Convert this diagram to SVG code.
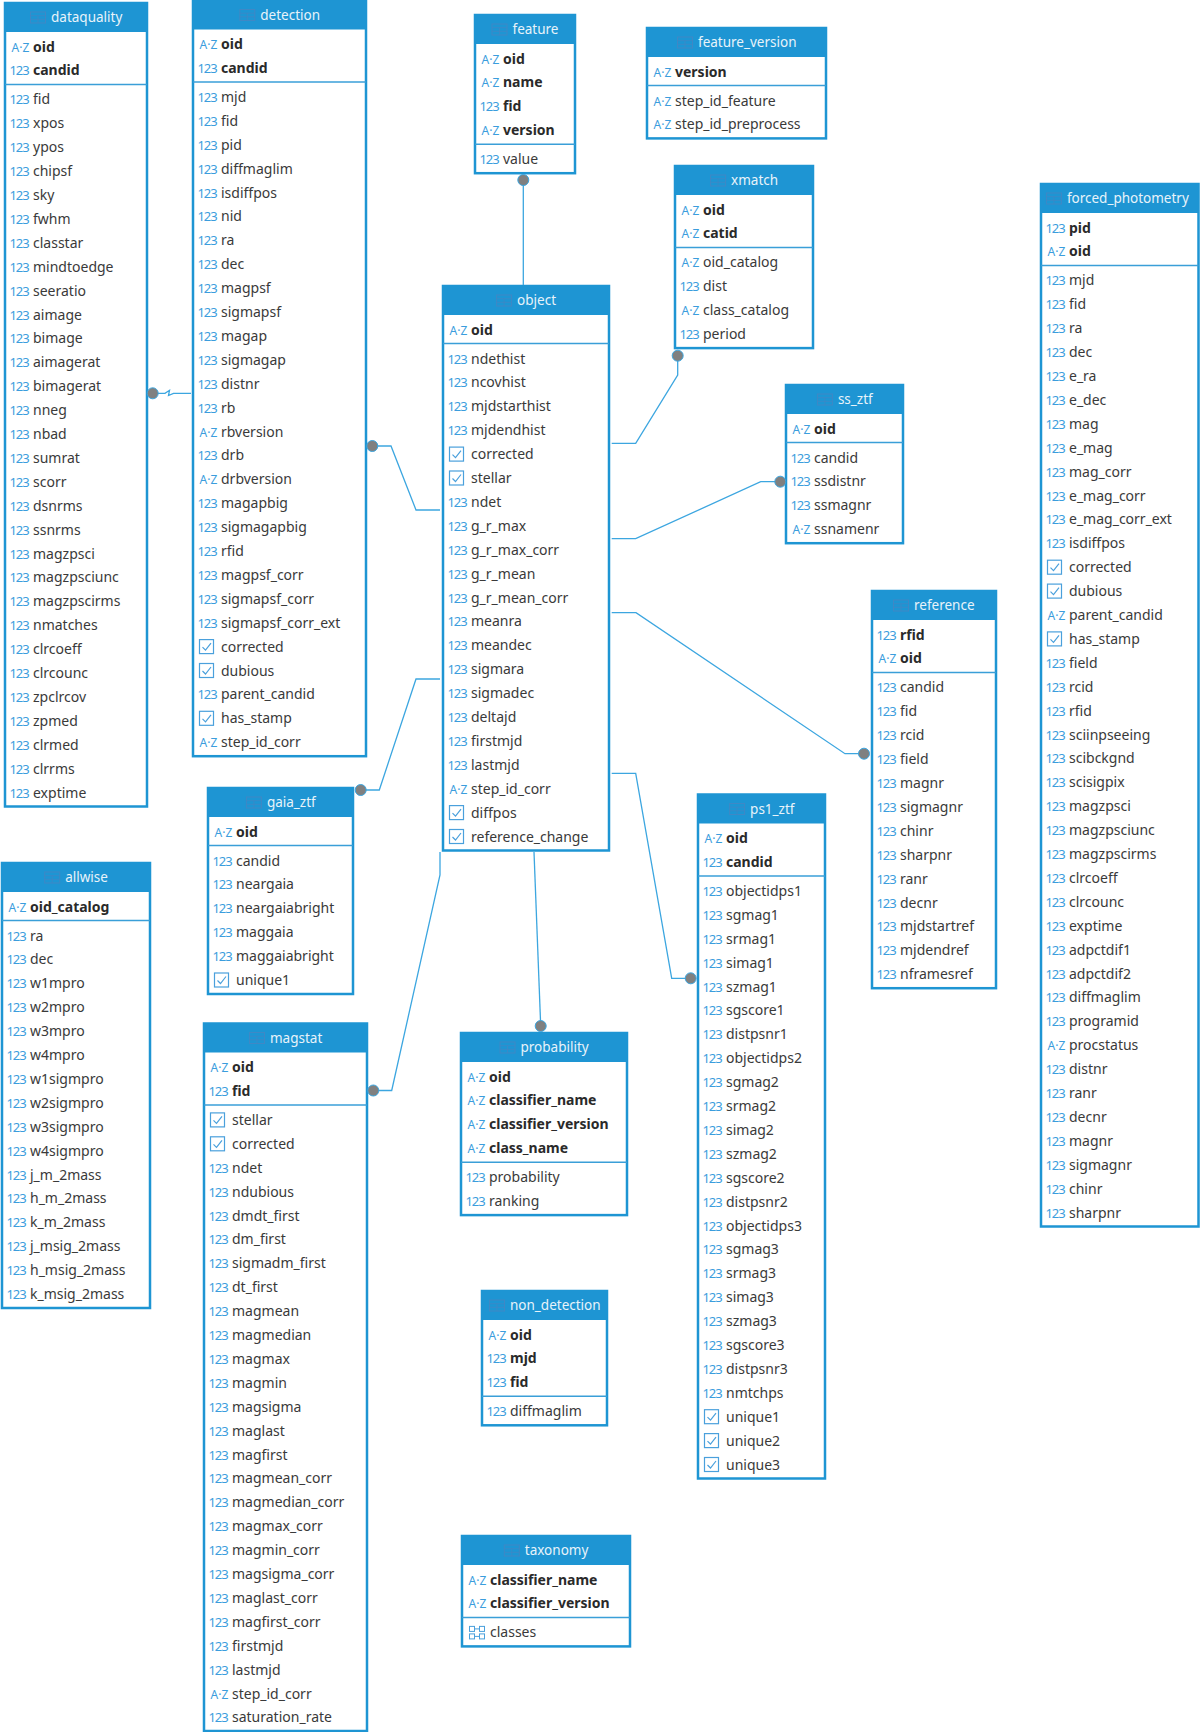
<svg xmlns="http://www.w3.org/2000/svg" xmlns:xlink="http://www.w3.org/1999/xlink" width="1200" height="1732" viewBox="0 0 1200 1732">
<style>
text{font-family:"Noto Sans","DejaVu Sans",sans-serif;font-size:14px;fill:#3a3a3a}
.i{font-size:13px;fill:#3b9ddd;letter-spacing:-1.1px}
.a{font-size:12px;fill:#3b9ddd}
.k{font-weight:bold;fill:#2a2a2a}
.t{font-size:13.5px;fill:#e8f3fa}
.box{fill:#fff;stroke:#1e95d3;stroke-width:2.5}
.hd{fill:#1e95d3}
.sep{stroke:#3a9fd8;stroke-width:1.5}
.conn{fill:none;stroke:#3ca6e0;stroke-width:1.3}
.dot{fill:#808080;stroke:#3ca6e0;stroke-width:1}
</style>
<defs>
<g id="ti"><rect x="0.5" y="-5.5" width="15" height="11" fill="none" stroke="#3f88c5" stroke-width="1"/><path d="M0.5,-1.8H15.5M0.5,1.8H15.5M8,-1.8V5.5" stroke="#3f88c5" stroke-width="0.8" fill="none"/></g>
<g id="cb"><rect x="6.5" y="-7" width="14" height="14" fill="#fff" stroke="#4aa0dc" stroke-width="1.2"/><path d="M9.5,0.5L12.5,3.5L18,-3.5" fill="none" stroke="#4aa0dc" stroke-width="1.2"/></g>
<g id="arr" fill="none" stroke="#4aa0dc" stroke-width="1"><rect x="7.5" y="-6" width="5" height="5"/><rect x="17.5" y="-6" width="5" height="5"/><rect x="7.5" y="1.5" width="5" height="5"/><rect x="17.5" y="1.5" width="5" height="5"/><path d="M12.5,-3.5H17.5M12.5,4H17.5"/></g>
</defs>
<rect width="1200" height="1732" fill="#fff"/>

<g id="t-dataquality">
<rect class="box" x="5" y="3" width="142" height="803.5"/><rect class="hd" x="5" y="3" width="142" height="29"/>
<use href="#ti" x="30" y="17.5"/><text class="t" x="51" y="22.3">dataquality</text>
<line class="sep" x1="5" y1="84.4" x2="147" y2="84.4"/>
<text class="a" x="11.5" y="51.5">A·Z</text><text class="k" x="33" y="51.5">oid</text>
<text class="i" x="9.5" y="75.4">123</text><text class="k" x="33" y="75.4">candid</text>
<text class="i" x="9.5" y="104.4">123</text><text x="33" y="104.4">fid</text>
<text class="i" x="9.5" y="128.3">123</text><text x="33" y="128.3">xpos</text>
<text class="i" x="9.5" y="152.2">123</text><text x="33" y="152.2">ypos</text>
<text class="i" x="9.5" y="176.1">123</text><text x="33" y="176.1">chipsf</text>
<text class="i" x="9.5" y="200">123</text><text x="33" y="200">sky</text>
<text class="i" x="9.5" y="223.9">123</text><text x="33" y="223.9">fwhm</text>
<text class="i" x="9.5" y="247.8">123</text><text x="33" y="247.8">classtar</text>
<text class="i" x="9.5" y="271.7">123</text><text x="33" y="271.7">mindtoedge</text>
<text class="i" x="9.5" y="295.6">123</text><text x="33" y="295.6">seeratio</text>
<text class="i" x="9.5" y="319.5">123</text><text x="33" y="319.5">aimage</text>
<text class="i" x="9.5" y="343.4">123</text><text x="33" y="343.4">bimage</text>
<text class="i" x="9.5" y="367.3">123</text><text x="33" y="367.3">aimagerat</text>
<text class="i" x="9.5" y="391.2">123</text><text x="33" y="391.2">bimagerat</text>
<text class="i" x="9.5" y="415.1">123</text><text x="33" y="415.1">nneg</text>
<text class="i" x="9.5" y="439">123</text><text x="33" y="439">nbad</text>
<text class="i" x="9.5" y="462.9">123</text><text x="33" y="462.9">sumrat</text>
<text class="i" x="9.5" y="486.8">123</text><text x="33" y="486.8">scorr</text>
<text class="i" x="9.5" y="510.7">123</text><text x="33" y="510.7">dsnrms</text>
<text class="i" x="9.5" y="534.6">123</text><text x="33" y="534.6">ssnrms</text>
<text class="i" x="9.5" y="558.5">123</text><text x="33" y="558.5">magzpsci</text>
<text class="i" x="9.5" y="582.4">123</text><text x="33" y="582.4">magzpsciunc</text>
<text class="i" x="9.5" y="606.3">123</text><text x="33" y="606.3">magzpscirms</text>
<text class="i" x="9.5" y="630.2">123</text><text x="33" y="630.2">nmatches</text>
<text class="i" x="9.5" y="654.1">123</text><text x="33" y="654.1">clrcoeff</text>
<text class="i" x="9.5" y="678">123</text><text x="33" y="678">clrcounc</text>
<text class="i" x="9.5" y="701.9">123</text><text x="33" y="701.9">zpclrcov</text>
<text class="i" x="9.5" y="725.8">123</text><text x="33" y="725.8">zpmed</text>
<text class="i" x="9.5" y="749.7">123</text><text x="33" y="749.7">clrmed</text>
<text class="i" x="9.5" y="773.6">123</text><text x="33" y="773.6">clrrms</text>
<text class="i" x="9.5" y="797.5">123</text><text x="33" y="797.5">exptime</text>
</g>

<g id="t-detection">
<rect class="box" x="193" y="0.5" width="173" height="755.7"/><rect class="hd" x="193" y="0.5" width="173" height="29"/>
<use href="#ti" x="239.3" y="15"/><text class="t" x="260.3" y="19.8">detection</text>
<line class="sep" x1="193" y1="81.9" x2="366" y2="81.9"/>
<text class="a" x="199.5" y="49">A·Z</text><text class="k" x="221" y="49">oid</text>
<text class="i" x="197.5" y="72.9">123</text><text class="k" x="221" y="72.9">candid</text>
<text class="i" x="197.5" y="101.9">123</text><text x="221" y="101.9">mjd</text>
<text class="i" x="197.5" y="125.8">123</text><text x="221" y="125.8">fid</text>
<text class="i" x="197.5" y="149.7">123</text><text x="221" y="149.7">pid</text>
<text class="i" x="197.5" y="173.6">123</text><text x="221" y="173.6">diffmaglim</text>
<text class="i" x="197.5" y="197.5">123</text><text x="221" y="197.5">isdiffpos</text>
<text class="i" x="197.5" y="221.4">123</text><text x="221" y="221.4">nid</text>
<text class="i" x="197.5" y="245.3">123</text><text x="221" y="245.3">ra</text>
<text class="i" x="197.5" y="269.2">123</text><text x="221" y="269.2">dec</text>
<text class="i" x="197.5" y="293.1">123</text><text x="221" y="293.1">magpsf</text>
<text class="i" x="197.5" y="317">123</text><text x="221" y="317">sigmapsf</text>
<text class="i" x="197.5" y="340.9">123</text><text x="221" y="340.9">magap</text>
<text class="i" x="197.5" y="364.8">123</text><text x="221" y="364.8">sigmagap</text>
<text class="i" x="197.5" y="388.7">123</text><text x="221" y="388.7">distnr</text>
<text class="i" x="197.5" y="412.6">123</text><text x="221" y="412.6">rb</text>
<text class="a" x="199.5" y="436.5">A·Z</text><text x="221" y="436.5">rbversion</text>
<text class="i" x="197.5" y="460.4">123</text><text x="221" y="460.4">drb</text>
<text class="a" x="199.5" y="484.3">A·Z</text><text x="221" y="484.3">drbversion</text>
<text class="i" x="197.5" y="508.2">123</text><text x="221" y="508.2">magapbig</text>
<text class="i" x="197.5" y="532.1">123</text><text x="221" y="532.1">sigmagapbig</text>
<text class="i" x="197.5" y="556">123</text><text x="221" y="556">rfid</text>
<text class="i" x="197.5" y="579.9">123</text><text x="221" y="579.9">magpsf_corr</text>
<text class="i" x="197.5" y="603.8">123</text><text x="221" y="603.8">sigmapsf_corr</text>
<text class="i" x="197.5" y="627.7">123</text><text x="221" y="627.7">sigmapsf_corr_ext</text>
<use href="#cb" x="193" y="646.6"/><text x="221" y="651.6">corrected</text>
<use href="#cb" x="193" y="670.5"/><text x="221" y="675.5">dubious</text>
<text class="i" x="197.5" y="699.4">123</text><text x="221" y="699.4">parent_candid</text>
<use href="#cb" x="193" y="718.3"/><text x="221" y="723.3">has_stamp</text>
<text class="a" x="199.5" y="747.2">A·Z</text><text x="221" y="747.2">step_id_corr</text>
</g>

<g id="t-feature">
<rect class="box" x="475" y="15" width="100" height="158.2"/><rect class="hd" x="475" y="15" width="100" height="29"/>
<use href="#ti" x="491.5" y="29.5"/><text class="t" x="512.5" y="34.3">feature</text>
<line class="sep" x1="475" y1="144.2" x2="575" y2="144.2"/>
<text class="a" x="481.5" y="63.5">A·Z</text><text class="k" x="503" y="63.5">oid</text>
<text class="a" x="481.5" y="87.4">A·Z</text><text class="k" x="503" y="87.4">name</text>
<text class="i" x="479.5" y="111.3">123</text><text class="k" x="503" y="111.3">fid</text>
<text class="a" x="481.5" y="135.2">A·Z</text><text class="k" x="503" y="135.2">version</text>
<text class="i" x="479.5" y="164.2">123</text><text x="503" y="164.2">value</text>
</g>

<g id="t-feature_version">
<rect class="box" x="647" y="28" width="179" height="110.4"/><rect class="hd" x="647" y="28" width="179" height="29"/>
<use href="#ti" x="677" y="42.5"/><text class="t" x="698" y="47.3">feature_version</text>
<line class="sep" x1="647" y1="85.5" x2="826" y2="85.5"/>
<text class="a" x="653.5" y="76.5">A·Z</text><text class="k" x="675" y="76.5">version</text>
<text class="a" x="653.5" y="105.5">A·Z</text><text x="675" y="105.5">step_id_feature</text>
<text class="a" x="653.5" y="129.4">A·Z</text><text x="675" y="129.4">step_id_preprocess</text>
</g>

<g id="t-xmatch">
<rect class="box" x="675" y="166" width="138" height="182.1"/><rect class="hd" x="675" y="166" width="138" height="29"/>
<use href="#ti" x="710.1" y="180.5"/><text class="t" x="731.1" y="185.3">xmatch</text>
<line class="sep" x1="675" y1="247.4" x2="813" y2="247.4"/>
<text class="a" x="681.5" y="214.5">A·Z</text><text class="k" x="703" y="214.5">oid</text>
<text class="a" x="681.5" y="238.4">A·Z</text><text class="k" x="703" y="238.4">catid</text>
<text class="a" x="681.5" y="267.4">A·Z</text><text x="703" y="267.4">oid_catalog</text>
<text class="i" x="679.5" y="291.3">123</text><text x="703" y="291.3">dist</text>
<text class="a" x="681.5" y="315.2">A·Z</text><text x="703" y="315.2">class_catalog</text>
<text class="i" x="679.5" y="339.1">123</text><text x="703" y="339.1">period</text>
</g>

<g id="t-object">
<rect class="box" x="443" y="286" width="166" height="564.5"/><rect class="hd" x="443" y="286" width="166" height="29"/>
<use href="#ti" x="496.1" y="300.5"/><text class="t" x="517.1" y="305.3">object</text>
<line class="sep" x1="443" y1="343.5" x2="609" y2="343.5"/>
<text class="a" x="449.5" y="334.5">A·Z</text><text class="k" x="471" y="334.5">oid</text>
<text class="i" x="447.5" y="363.5">123</text><text x="471" y="363.5">ndethist</text>
<text class="i" x="447.5" y="387.4">123</text><text x="471" y="387.4">ncovhist</text>
<text class="i" x="447.5" y="411.3">123</text><text x="471" y="411.3">mjdstarthist</text>
<text class="i" x="447.5" y="435.2">123</text><text x="471" y="435.2">mjdendhist</text>
<use href="#cb" x="443" y="454.1"/><text x="471" y="459.1">corrected</text>
<use href="#cb" x="443" y="478"/><text x="471" y="483">stellar</text>
<text class="i" x="447.5" y="506.9">123</text><text x="471" y="506.9">ndet</text>
<text class="i" x="447.5" y="530.8">123</text><text x="471" y="530.8">g_r_max</text>
<text class="i" x="447.5" y="554.7">123</text><text x="471" y="554.7">g_r_max_corr</text>
<text class="i" x="447.5" y="578.6">123</text><text x="471" y="578.6">g_r_mean</text>
<text class="i" x="447.5" y="602.5">123</text><text x="471" y="602.5">g_r_mean_corr</text>
<text class="i" x="447.5" y="626.4">123</text><text x="471" y="626.4">meanra</text>
<text class="i" x="447.5" y="650.3">123</text><text x="471" y="650.3">meandec</text>
<text class="i" x="447.5" y="674.2">123</text><text x="471" y="674.2">sigmara</text>
<text class="i" x="447.5" y="698.1">123</text><text x="471" y="698.1">sigmadec</text>
<text class="i" x="447.5" y="722">123</text><text x="471" y="722">deltajd</text>
<text class="i" x="447.5" y="745.9">123</text><text x="471" y="745.9">firstmjd</text>
<text class="i" x="447.5" y="769.8">123</text><text x="471" y="769.8">lastmjd</text>
<text class="a" x="449.5" y="793.7">A·Z</text><text x="471" y="793.7">step_id_corr</text>
<use href="#cb" x="443" y="812.6"/><text x="471" y="817.6">diffpos</text>
<use href="#cb" x="443" y="836.5"/><text x="471" y="841.5">reference_change</text>
</g>

<g id="t-ss_ztf">
<rect class="box" x="786" y="385" width="117" height="158.2"/><rect class="hd" x="786" y="385" width="117" height="29"/>
<use href="#ti" x="816.9" y="399.5"/><text class="t" x="837.9" y="404.3">ss_ztf</text>
<line class="sep" x1="786" y1="442.5" x2="903" y2="442.5"/>
<text class="a" x="792.5" y="433.5">A·Z</text><text class="k" x="814" y="433.5">oid</text>
<text class="i" x="790.5" y="462.5">123</text><text x="814" y="462.5">candid</text>
<text class="i" x="790.5" y="486.4">123</text><text x="814" y="486.4">ssdistnr</text>
<text class="i" x="790.5" y="510.3">123</text><text x="814" y="510.3">ssmagnr</text>
<text class="a" x="792.5" y="534.2">A·Z</text><text x="814" y="534.2">ssnamenr</text>
</g>

<g id="t-reference">
<rect class="box" x="872" y="591" width="124" height="397.2"/><rect class="hd" x="872" y="591" width="124" height="29"/>
<use href="#ti" x="893" y="605.5"/><text class="t" x="914" y="610.3">reference</text>
<line class="sep" x1="872" y1="672.4" x2="996" y2="672.4"/>
<text class="i" x="876.5" y="639.5">123</text><text class="k" x="900" y="639.5">rfid</text>
<text class="a" x="878.5" y="663.4">A·Z</text><text class="k" x="900" y="663.4">oid</text>
<text class="i" x="876.5" y="692.4">123</text><text x="900" y="692.4">candid</text>
<text class="i" x="876.5" y="716.3">123</text><text x="900" y="716.3">fid</text>
<text class="i" x="876.5" y="740.2">123</text><text x="900" y="740.2">rcid</text>
<text class="i" x="876.5" y="764.1">123</text><text x="900" y="764.1">field</text>
<text class="i" x="876.5" y="788">123</text><text x="900" y="788">magnr</text>
<text class="i" x="876.5" y="811.9">123</text><text x="900" y="811.9">sigmagnr</text>
<text class="i" x="876.5" y="835.8">123</text><text x="900" y="835.8">chinr</text>
<text class="i" x="876.5" y="859.7">123</text><text x="900" y="859.7">sharpnr</text>
<text class="i" x="876.5" y="883.6">123</text><text x="900" y="883.6">ranr</text>
<text class="i" x="876.5" y="907.5">123</text><text x="900" y="907.5">decnr</text>
<text class="i" x="876.5" y="931.4">123</text><text x="900" y="931.4">mjdstartref</text>
<text class="i" x="876.5" y="955.3">123</text><text x="900" y="955.3">mjdendref</text>
<text class="i" x="876.5" y="979.2">123</text><text x="900" y="979.2">nframesref</text>
</g>

<g id="t-forced_photometry">
<rect class="box" x="1041" y="184" width="157.5" height="1042.5"/><rect class="hd" x="1041" y="184" width="157.5" height="29"/>
<use href="#ti" x="1045.9" y="198.5"/><text class="t" x="1066.9" y="203.3">forced_photometry</text>
<line class="sep" x1="1041" y1="265.4" x2="1198.5" y2="265.4"/>
<text class="i" x="1045.5" y="232.5">123</text><text class="k" x="1069" y="232.5">pid</text>
<text class="a" x="1047.5" y="256.4">A·Z</text><text class="k" x="1069" y="256.4">oid</text>
<text class="i" x="1045.5" y="285.4">123</text><text x="1069" y="285.4">mjd</text>
<text class="i" x="1045.5" y="309.3">123</text><text x="1069" y="309.3">fid</text>
<text class="i" x="1045.5" y="333.2">123</text><text x="1069" y="333.2">ra</text>
<text class="i" x="1045.5" y="357.1">123</text><text x="1069" y="357.1">dec</text>
<text class="i" x="1045.5" y="381">123</text><text x="1069" y="381">e_ra</text>
<text class="i" x="1045.5" y="404.9">123</text><text x="1069" y="404.9">e_dec</text>
<text class="i" x="1045.5" y="428.8">123</text><text x="1069" y="428.8">mag</text>
<text class="i" x="1045.5" y="452.7">123</text><text x="1069" y="452.7">e_mag</text>
<text class="i" x="1045.5" y="476.6">123</text><text x="1069" y="476.6">mag_corr</text>
<text class="i" x="1045.5" y="500.5">123</text><text x="1069" y="500.5">e_mag_corr</text>
<text class="i" x="1045.5" y="524.4">123</text><text x="1069" y="524.4">e_mag_corr_ext</text>
<text class="i" x="1045.5" y="548.3">123</text><text x="1069" y="548.3">isdiffpos</text>
<use href="#cb" x="1041" y="567.2"/><text x="1069" y="572.2">corrected</text>
<use href="#cb" x="1041" y="591.1"/><text x="1069" y="596.1">dubious</text>
<text class="a" x="1047.5" y="620">A·Z</text><text x="1069" y="620">parent_candid</text>
<use href="#cb" x="1041" y="638.9"/><text x="1069" y="643.9">has_stamp</text>
<text class="i" x="1045.5" y="667.8">123</text><text x="1069" y="667.8">field</text>
<text class="i" x="1045.5" y="691.7">123</text><text x="1069" y="691.7">rcid</text>
<text class="i" x="1045.5" y="715.6">123</text><text x="1069" y="715.6">rfid</text>
<text class="i" x="1045.5" y="739.5">123</text><text x="1069" y="739.5">sciinpseeing</text>
<text class="i" x="1045.5" y="763.4">123</text><text x="1069" y="763.4">scibckgnd</text>
<text class="i" x="1045.5" y="787.3">123</text><text x="1069" y="787.3">scisigpix</text>
<text class="i" x="1045.5" y="811.2">123</text><text x="1069" y="811.2">magzpsci</text>
<text class="i" x="1045.5" y="835.1">123</text><text x="1069" y="835.1">magzpsciunc</text>
<text class="i" x="1045.5" y="859">123</text><text x="1069" y="859">magzpscirms</text>
<text class="i" x="1045.5" y="882.9">123</text><text x="1069" y="882.9">clrcoeff</text>
<text class="i" x="1045.5" y="906.8">123</text><text x="1069" y="906.8">clrcounc</text>
<text class="i" x="1045.5" y="930.7">123</text><text x="1069" y="930.7">exptime</text>
<text class="i" x="1045.5" y="954.6">123</text><text x="1069" y="954.6">adpctdif1</text>
<text class="i" x="1045.5" y="978.5">123</text><text x="1069" y="978.5">adpctdif2</text>
<text class="i" x="1045.5" y="1002.4">123</text><text x="1069" y="1002.4">diffmaglim</text>
<text class="i" x="1045.5" y="1026.3">123</text><text x="1069" y="1026.3">programid</text>
<text class="a" x="1047.5" y="1050.2">A·Z</text><text x="1069" y="1050.2">procstatus</text>
<text class="i" x="1045.5" y="1074.1">123</text><text x="1069" y="1074.1">distnr</text>
<text class="i" x="1045.5" y="1098">123</text><text x="1069" y="1098">ranr</text>
<text class="i" x="1045.5" y="1121.9">123</text><text x="1069" y="1121.9">decnr</text>
<text class="i" x="1045.5" y="1145.8">123</text><text x="1069" y="1145.8">magnr</text>
<text class="i" x="1045.5" y="1169.7">123</text><text x="1069" y="1169.7">sigmagnr</text>
<text class="i" x="1045.5" y="1193.6">123</text><text x="1069" y="1193.6">chinr</text>
<text class="i" x="1045.5" y="1217.5">123</text><text x="1069" y="1217.5">sharpnr</text>
</g>

<g id="t-gaia_ztf">
<rect class="box" x="208" y="788" width="145" height="206"/><rect class="hd" x="208" y="788" width="145" height="29"/>
<use href="#ti" x="245.9" y="802.5"/><text class="t" x="266.9" y="807.3">gaia_ztf</text>
<line class="sep" x1="208" y1="845.5" x2="353" y2="845.5"/>
<text class="a" x="214.5" y="836.5">A·Z</text><text class="k" x="236" y="836.5">oid</text>
<text class="i" x="212.5" y="865.5">123</text><text x="236" y="865.5">candid</text>
<text class="i" x="212.5" y="889.4">123</text><text x="236" y="889.4">neargaia</text>
<text class="i" x="212.5" y="913.3">123</text><text x="236" y="913.3">neargaiabright</text>
<text class="i" x="212.5" y="937.2">123</text><text x="236" y="937.2">maggaia</text>
<text class="i" x="212.5" y="961.1">123</text><text x="236" y="961.1">maggaiabright</text>
<use href="#cb" x="208" y="980"/><text x="236" y="985">unique1</text>
</g>

<g id="t-magstat">
<rect class="box" x="204" y="1023.5" width="163" height="707.5"/><rect class="hd" x="204" y="1023.5" width="163" height="29"/>
<use href="#ti" x="249" y="1038"/><text class="t" x="270" y="1042.8">magstat</text>
<line class="sep" x1="204" y1="1104.9" x2="367" y2="1104.9"/>
<text class="a" x="210.5" y="1072">A·Z</text><text class="k" x="232" y="1072">oid</text>
<text class="i" x="208.5" y="1095.9">123</text><text class="k" x="232" y="1095.9">fid</text>
<use href="#cb" x="204" y="1119.9"/><text x="232" y="1124.9">stellar</text>
<use href="#cb" x="204" y="1143.8"/><text x="232" y="1148.8">corrected</text>
<text class="i" x="208.5" y="1172.7">123</text><text x="232" y="1172.7">ndet</text>
<text class="i" x="208.5" y="1196.6">123</text><text x="232" y="1196.6">ndubious</text>
<text class="i" x="208.5" y="1220.5">123</text><text x="232" y="1220.5">dmdt_first</text>
<text class="i" x="208.5" y="1244.4">123</text><text x="232" y="1244.4">dm_first</text>
<text class="i" x="208.5" y="1268.3">123</text><text x="232" y="1268.3">sigmadm_first</text>
<text class="i" x="208.5" y="1292.2">123</text><text x="232" y="1292.2">dt_first</text>
<text class="i" x="208.5" y="1316.1">123</text><text x="232" y="1316.1">magmean</text>
<text class="i" x="208.5" y="1340">123</text><text x="232" y="1340">magmedian</text>
<text class="i" x="208.5" y="1363.9">123</text><text x="232" y="1363.9">magmax</text>
<text class="i" x="208.5" y="1387.8">123</text><text x="232" y="1387.8">magmin</text>
<text class="i" x="208.5" y="1411.7">123</text><text x="232" y="1411.7">magsigma</text>
<text class="i" x="208.5" y="1435.6">123</text><text x="232" y="1435.6">maglast</text>
<text class="i" x="208.5" y="1459.5">123</text><text x="232" y="1459.5">magfirst</text>
<text class="i" x="208.5" y="1483.4">123</text><text x="232" y="1483.4">magmean_corr</text>
<text class="i" x="208.5" y="1507.3">123</text><text x="232" y="1507.3">magmedian_corr</text>
<text class="i" x="208.5" y="1531.2">123</text><text x="232" y="1531.2">magmax_corr</text>
<text class="i" x="208.5" y="1555.1">123</text><text x="232" y="1555.1">magmin_corr</text>
<text class="i" x="208.5" y="1579">123</text><text x="232" y="1579">magsigma_corr</text>
<text class="i" x="208.5" y="1602.9">123</text><text x="232" y="1602.9">maglast_corr</text>
<text class="i" x="208.5" y="1626.8">123</text><text x="232" y="1626.8">magfirst_corr</text>
<text class="i" x="208.5" y="1650.7">123</text><text x="232" y="1650.7">firstmjd</text>
<text class="i" x="208.5" y="1674.6">123</text><text x="232" y="1674.6">lastmjd</text>
<text class="a" x="210.5" y="1698.5">A·Z</text><text x="232" y="1698.5">step_id_corr</text>
<text class="i" x="208.5" y="1722.4">123</text><text x="232" y="1722.4">saturation_rate</text>
</g>

<g id="t-allwise">
<rect class="box" x="2" y="863" width="148" height="445"/><rect class="hd" x="2" y="863" width="148" height="29"/>
<use href="#ti" x="44.2" y="877.5"/><text class="t" x="65.2" y="882.3">allwise</text>
<line class="sep" x1="2" y1="920.5" x2="150" y2="920.5"/>
<text class="a" x="8.5" y="911.5">A·Z</text><text class="k" x="30" y="911.5">oid_catalog</text>
<text class="i" x="6.5" y="940.5">123</text><text x="30" y="940.5">ra</text>
<text class="i" x="6.5" y="964.4">123</text><text x="30" y="964.4">dec</text>
<text class="i" x="6.5" y="988.3">123</text><text x="30" y="988.3">w1mpro</text>
<text class="i" x="6.5" y="1012.2">123</text><text x="30" y="1012.2">w2mpro</text>
<text class="i" x="6.5" y="1036.1">123</text><text x="30" y="1036.1">w3mpro</text>
<text class="i" x="6.5" y="1060">123</text><text x="30" y="1060">w4mpro</text>
<text class="i" x="6.5" y="1083.9">123</text><text x="30" y="1083.9">w1sigmpro</text>
<text class="i" x="6.5" y="1107.8">123</text><text x="30" y="1107.8">w2sigmpro</text>
<text class="i" x="6.5" y="1131.7">123</text><text x="30" y="1131.7">w3sigmpro</text>
<text class="i" x="6.5" y="1155.6">123</text><text x="30" y="1155.6">w4sigmpro</text>
<text class="i" x="6.5" y="1179.5">123</text><text x="30" y="1179.5">j_m_2mass</text>
<text class="i" x="6.5" y="1203.4">123</text><text x="30" y="1203.4">h_m_2mass</text>
<text class="i" x="6.5" y="1227.3">123</text><text x="30" y="1227.3">k_m_2mass</text>
<text class="i" x="6.5" y="1251.2">123</text><text x="30" y="1251.2">j_msig_2mass</text>
<text class="i" x="6.5" y="1275.1">123</text><text x="30" y="1275.1">h_msig_2mass</text>
<text class="i" x="6.5" y="1299">123</text><text x="30" y="1299">k_msig_2mass</text>
</g>

<g id="t-probability">
<rect class="box" x="461" y="1033" width="166" height="182.1"/><rect class="hd" x="461" y="1033" width="166" height="29"/>
<use href="#ti" x="499.5" y="1047.5"/><text class="t" x="520.5" y="1052.3">probability</text>
<line class="sep" x1="461" y1="1162.2" x2="627" y2="1162.2"/>
<text class="a" x="467.5" y="1081.5">A·Z</text><text class="k" x="489" y="1081.5">oid</text>
<text class="a" x="467.5" y="1105.4">A·Z</text><text class="k" x="489" y="1105.4">classifier_name</text>
<text class="a" x="467.5" y="1129.3">A·Z</text><text class="k" x="489" y="1129.3">classifier_version</text>
<text class="a" x="467.5" y="1153.2">A·Z</text><text class="k" x="489" y="1153.2">class_name</text>
<text class="i" x="465.5" y="1182.2">123</text><text x="489" y="1182.2">probability</text>
<text class="i" x="465.5" y="1206.1">123</text><text x="489" y="1206.1">ranking</text>
</g>

<g id="t-ps1_ztf">
<rect class="box" x="698" y="794.5" width="127" height="684"/><rect class="hd" x="698" y="794.5" width="127" height="29"/>
<use href="#ti" x="729.1" y="809"/><text class="t" x="750.1" y="813.8">ps1_ztf</text>
<line class="sep" x1="698" y1="875.9" x2="825" y2="875.9"/>
<text class="a" x="704.5" y="843">A·Z</text><text class="k" x="726" y="843">oid</text>
<text class="i" x="702.5" y="866.9">123</text><text class="k" x="726" y="866.9">candid</text>
<text class="i" x="702.5" y="895.9">123</text><text x="726" y="895.9">objectidps1</text>
<text class="i" x="702.5" y="919.8">123</text><text x="726" y="919.8">sgmag1</text>
<text class="i" x="702.5" y="943.7">123</text><text x="726" y="943.7">srmag1</text>
<text class="i" x="702.5" y="967.6">123</text><text x="726" y="967.6">simag1</text>
<text class="i" x="702.5" y="991.5">123</text><text x="726" y="991.5">szmag1</text>
<text class="i" x="702.5" y="1015.4">123</text><text x="726" y="1015.4">sgscore1</text>
<text class="i" x="702.5" y="1039.3">123</text><text x="726" y="1039.3">distpsnr1</text>
<text class="i" x="702.5" y="1063.2">123</text><text x="726" y="1063.2">objectidps2</text>
<text class="i" x="702.5" y="1087.1">123</text><text x="726" y="1087.1">sgmag2</text>
<text class="i" x="702.5" y="1111">123</text><text x="726" y="1111">srmag2</text>
<text class="i" x="702.5" y="1134.9">123</text><text x="726" y="1134.9">simag2</text>
<text class="i" x="702.5" y="1158.8">123</text><text x="726" y="1158.8">szmag2</text>
<text class="i" x="702.5" y="1182.7">123</text><text x="726" y="1182.7">sgscore2</text>
<text class="i" x="702.5" y="1206.6">123</text><text x="726" y="1206.6">distpsnr2</text>
<text class="i" x="702.5" y="1230.5">123</text><text x="726" y="1230.5">objectidps3</text>
<text class="i" x="702.5" y="1254.4">123</text><text x="726" y="1254.4">sgmag3</text>
<text class="i" x="702.5" y="1278.3">123</text><text x="726" y="1278.3">srmag3</text>
<text class="i" x="702.5" y="1302.2">123</text><text x="726" y="1302.2">simag3</text>
<text class="i" x="702.5" y="1326.1">123</text><text x="726" y="1326.1">szmag3</text>
<text class="i" x="702.5" y="1350">123</text><text x="726" y="1350">sgscore3</text>
<text class="i" x="702.5" y="1373.9">123</text><text x="726" y="1373.9">distpsnr3</text>
<text class="i" x="702.5" y="1397.8">123</text><text x="726" y="1397.8">nmtchps</text>
<use href="#cb" x="698" y="1416.7"/><text x="726" y="1421.7">unique1</text>
<use href="#cb" x="698" y="1440.6"/><text x="726" y="1445.6">unique2</text>
<use href="#cb" x="698" y="1464.5"/><text x="726" y="1469.5">unique3</text>
</g>

<g id="t-non_detection">
<rect class="box" x="482" y="1291" width="125" height="134.3"/><rect class="hd" x="482" y="1291" width="125" height="29"/>
<use href="#ti" x="489" y="1305.5"/><text class="t" x="510" y="1310.3">non_detection</text>
<line class="sep" x1="482" y1="1396.3" x2="607" y2="1396.3"/>
<text class="a" x="488.5" y="1339.5">A·Z</text><text class="k" x="510" y="1339.5">oid</text>
<text class="i" x="486.5" y="1363.4">123</text><text class="k" x="510" y="1363.4">mjd</text>
<text class="i" x="486.5" y="1387.3">123</text><text class="k" x="510" y="1387.3">fid</text>
<text class="i" x="486.5" y="1416.3">123</text><text x="510" y="1416.3">diffmaglim</text>
</g>

<g id="t-taxonomy">
<rect class="box" x="462" y="1536" width="168" height="110.4"/><rect class="hd" x="462" y="1536" width="168" height="29"/>
<use href="#ti" x="503.8" y="1550.5"/><text class="t" x="524.8" y="1555.3">taxonomy</text>
<line class="sep" x1="462" y1="1617.4" x2="630" y2="1617.4"/>
<text class="a" x="468.5" y="1584.5">A·Z</text><text class="k" x="490" y="1584.5">classifier_name</text>
<text class="a" x="468.5" y="1608.4">A·Z</text><text class="k" x="490" y="1608.4">classifier_version</text>
<use href="#arr" x="462" y="1632.4"/><text x="490" y="1637.4">classes</text>
</g>

<g id="connectors">
<path class="conn" d="M152.7,393.3H165L169.5,390.3L168.5,395.5L173.5,393.3H191"/>
<path class="conn" d="M523.3,180V285"/>
<path class="conn" d="M372.3,446H391L416,510H440"/>
<path class="conn" d="M677.7,355.7V375L635.7,443.3H611.7"/>
<path class="conn" d="M780.3,481.7H760.7L635.7,538.7H611.7"/>
<path class="conn" d="M864,753.7H845L636,612.7H611.7"/>
<path class="conn" d="M360.7,790H379.3L416,679H440"/>
<path class="conn" d="M373.3,1090.5H391.7L440,875V852"/>
<path class="conn" d="M540.7,1026L534,852"/>
<path class="conn" d="M690.7,978.3H671.7L635.7,773.3H611.7"/>
<circle class="dot" cx="152.7" cy="393.3" r="5.5"/>
<circle class="dot" cx="523.3" cy="180" r="5.5"/>
<circle class="dot" cx="372.3" cy="446" r="5.5"/>
<circle class="dot" cx="677.7" cy="355.7" r="5.5"/>
<circle class="dot" cx="780.3" cy="481.7" r="5.5"/>
<circle class="dot" cx="864" cy="753.7" r="5.5"/>
<circle class="dot" cx="360.7" cy="790" r="5.5"/>
<circle class="dot" cx="373.3" cy="1090.5" r="5.5"/>
<circle class="dot" cx="540.7" cy="1026" r="5.5"/>
<circle class="dot" cx="690.7" cy="978.3" r="5.5"/>
</g>
</svg>
